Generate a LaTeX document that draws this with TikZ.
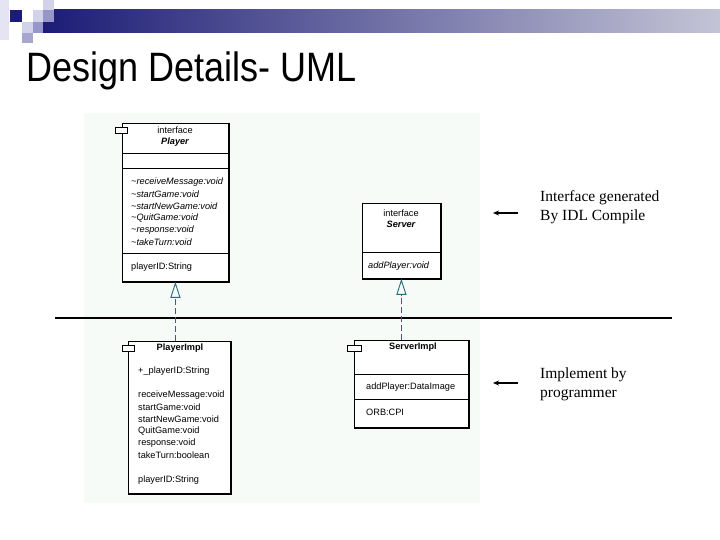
\documentclass[tikz,border=0pt]{standalone}
\usepackage{fontspec}
\setmainfont{Liberation Serif}
\setsansfont{Liberation Sans}
\usetikzlibrary{arrows.meta}

\definecolor{navy}{RGB}{28,28,118}
\definecolor{barend}{RGB}{196,196,214}
\definecolor{sqlight}{RGB}{210,210,234}
\definecolor{sqmid}{RGB}{150,150,200}
\definecolor{paper}{RGB}{246,251,247}
\definecolor{dashteal}{RGB}{38,108,118}

\begin{document}
\begin{tikzpicture}[
    x=1pt, y=-1pt,
    umlbox/.style={rectangle,draw,line width=0.8pt,fill=white,anchor=north west,inner sep=0pt},
    shadowline/.style={line width=1.8pt},
    umltext/.style={font=\sffamily\fontsize{9.2}{10}\selectfont,inner sep=0pt},
    umlitem/.style={umltext,anchor=west},
    umlitalic/.style={umlitem,font=\sffamily\itshape\fontsize{9.2}{10}\selectfont},
    umlbold/.style={umltext,font=\sffamily\bfseries\fontsize{9.2}{10}\selectfont},
    tabbox/.style={rectangle,draw,line width=0.8pt,fill=white,minimum width=12pt,minimum height=6pt,inner sep=0pt},
    realize/.style={dashteal,line width=0.9pt,dash pattern=on 6pt off 3pt,-{Triangle[open,length=16pt,width=10pt]}},
    note/.style={font=\fontsize{15.5}{19}\selectfont,align=left,anchor=west,inner sep=0pt},
    notearrow/.style={-{Stealth[length=6pt,width=5pt]},line width=1.6pt}
]
\useasboundingbox (0,0) rectangle (720,540);

% banner and squares
\shade[left color=navy,right color=barend] (43,10) rectangle (720,33);
\fill[sqlight!60] (0,0) rectangle (9,40);
\fill[navy] (10,10) rectangle (22,22);
\fill[sqlight] (33,10) rectangle (43,22);
\fill[sqlight] (43,0) rectangle (54,10);
\fill[sqmid] (43,10) rectangle (54,22);
\fill[sqlight] (22,22) rectangle (33,33);
\fill[sqmid] (33,22) rectangle (43,33);
\fill[sqmid!85] (22,33) rectangle (33,43);

\node[anchor=base west,inner sep=0pt,font=\sffamily\fontsize{36}{40}\selectfont] (title) at (26,82)
    {\scalebox{1}[1.14]{Design Details- UML}};

% pale background of the diagram
\fill[paper] (84,113) rectangle (480,503);

% interface Player
\node[umlbox,minimum width=106pt,minimum height=158pt] (player) at (122,123) {};
\draw[shadowline] (player.north east) -- (player.south east) -- (player.south west);
\node[tabbox] (playertab) at (121,130) {};
\node[umltext] (playerst) at (175,130) {interface};
\node[umlbold,font=\sffamily\bfseries\itshape\fontsize{9.2}{10}\selectfont] (playername) at (175,142) {Player};
\draw (player.west |- 0,153) -- (player.east |- 0,153);
\draw (player.west |- 0,168) -- (player.east |- 0,168);
\node[umlitalic] (pm1) at (131,182) {\textasciitilde receiveMessage:void};
\node[umlitalic] (pm2) at (131,194) {\textasciitilde startGame:void};
\node[umlitalic] (pm3) at (131,206) {\textasciitilde startNewGame:void};
\node[umlitalic] (pm4) at (131,218) {\textasciitilde QuitGame:void};
\node[umlitalic] (pm5) at (131,230) {\textasciitilde response:void};
\node[umlitalic] (pm6) at (131,242) {\textasciitilde takeTurn:void};
\draw (player.west |- 0,253) -- (player.east |- 0,253);
\node[umlitem] (pattr) at (131,267) {playerID:String};

% interface Server
\node[umlbox,minimum width=78pt,minimum height=75pt] (server) at (362,203) {};
\draw[shadowline] (server.north east) -- (server.south east) -- (server.south west);
\node[umltext] (serverst) at (401,213) {interface};
\node[umlbold,font=\sffamily\bfseries\itshape\fontsize{9.2}{10}\selectfont] (servername) at (401,224) {Server};
\draw (server.west |- 0,252) -- (server.east |- 0,252);
\node[umlitalic] (sm1) at (368,266) {addPlayer:void};

% dividing line
\coordinate (divl) at (55,318);
\coordinate (divr) at (672,318);
\draw[line width=1.2pt] (divl) -- (divr);

% PlayerImpl
\node[umlbox,minimum width=102pt,minimum height=152pt] (pimpl) at (128,341) {};
\draw[shadowline] (pimpl.north east) -- (pimpl.south east) -- (pimpl.south west);
\node[tabbox] (pimpltab) at (128,348) {};
\node[umlbold] (pimplname) at (180,348) {PlayerImpl};
\node[umlitem] (pi0) at (138,371) {+\_playerID:String};
\node[umlitem] (pi1) at (138,395) {receiveMessage:void};
\node[umlitem] (pi2) at (138,407) {startGame:void};
\node[umlitem] (pi3) at (138,419) {startNewGame:void};
\node[umlitem] (pi4) at (138,431) {QuitGame:void};
\node[umlitem] (pi5) at (138,443) {response:void};
\node[umlitem] (pi6) at (138,455) {takeTurn:boolean};
\node[umlitem] (pi7) at (138,480) {playerID:String};

% ServerImpl
\node[umlbox,minimum width=114pt,minimum height=87pt] (simpl) at (354,340) {};
\draw[shadowline] (simpl.north east) -- (simpl.south east) -- (simpl.south west);
\node[tabbox,minimum width=14pt] (simpltab) at (354,348) {};
\node[umlbold] (simplname) at (413,347) {ServerImpl};
\draw (simpl.west |- 0,374) -- (simpl.east |- 0,374);
\node[umlitem] (si1) at (366,387) {addPlayer:DataImage};
\draw (simpl.west |- 0,399) -- (simpl.east |- 0,399);
\node[umlitem] (si2) at (366,412) {ORB:CPI};

% realization
\draw[realize] (pimpl.north -| player.south) -- (player.south);
\draw[realize] (simpl.north -| server.south) -- (server.south);

% notes
\node[note] (gennote) at (540,207.5) {Interface generated\\By IDL Compile};
\node[note] (impnote) at (540,384.5) {Implement by\\programmer};
\coordinate (gentail) at (518,213);
\coordinate (gentip) at (493,213);
\coordinate (imptail) at (518,383);
\coordinate (imptip) at (493,383);
\draw[notearrow] (gentail) -- (gentip);
\draw[notearrow] (imptail) -- (imptip);

\end{tikzpicture}
\end{document}
